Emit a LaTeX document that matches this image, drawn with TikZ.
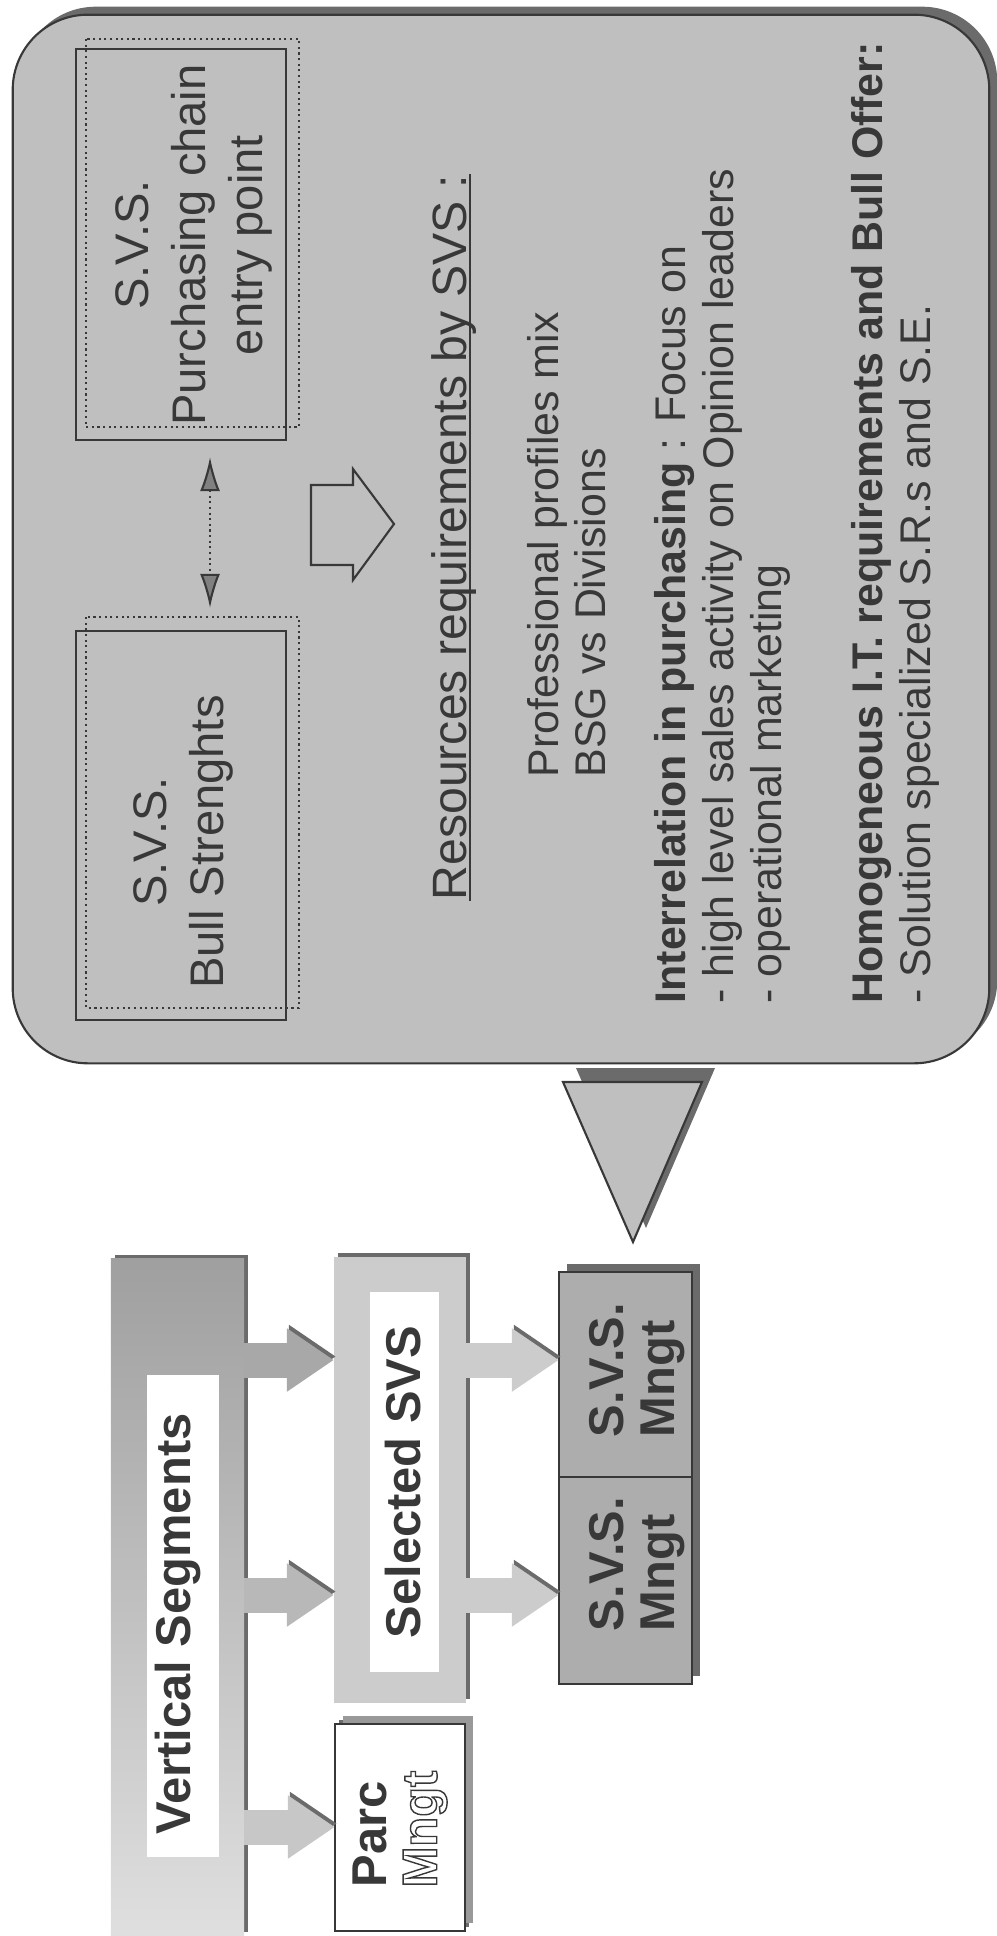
\documentclass[tikz,border=0pt]{standalone}
\usepackage{fontspec}
\setmainfont{Liberation Sans}
\usetikzlibrary{arrows.meta,positioning,shadows,backgrounds}
\definecolor{panelgray}{gray}{0.75}
\definecolor{shadegray}{gray}{0.42}
\definecolor{inkgray}{gray}{0.22}
\definecolor{mngtgray}{gray}{0.68}
\definecolor{selgray}{gray}{0.80}
\definecolor{flowgray}{gray}{0.78}
% outlined letters, as in the scan
\newcommand{\hollowtext}[1]{\special{pdf:literal 1 Tr}#1\special{pdf:literal 0 Tr}}

\tikzset{
  vtext/.style={rotate=90,inner sep=0pt,text=inkgray},
  boxfont/.style={font=\fontsize{13.4}{16.2}\selectfont},
  headfont/.style={font=\fontsize{13.7}{16}\selectfont},
  parafont/.style={font=\fontsize{12.2}{14}\selectfont},
  flowfont/.style={font=\fontsize{13.9}{14.3}\selectfont\bfseries},
  boxline/.style={draw=inkgray,line width=0.6pt,inner sep=0pt,outer sep=0pt},
  flowbox/.style={inner sep=0pt,outer sep=0pt,
    drop shadow={shadow xshift=0.04cm,shadow yshift=0.04cm,fill=shadegray,opacity=1}},
  cellbox/.style={boxline,fill=mngtgray,minimum width=1.33cm},
  twoway/.style={densely dotted,draw=inkgray,line width=0.6pt,
    {Latex[length=0.34cm,width=0.2cm,fill=gray]}-{Latex[length=0.34cm,width=0.2cm,fill=gray]},
    shorten <=0.17cm,shorten >=0.23cm},
  flowarrow/.style={draw=#1,line width=0.35cm,-{Triangle[length=0.47cm,width=0.6cm]},
    preaction={draw=shadegray,transform canvas={xshift=0.02cm,yshift=0.035cm}}},
  flowarrow/.default=flowgray
}

\begin{document}
\begin{tikzpicture}[x=0.01cm,y=-0.01cm]
  \useasboundingbox (0,0) rectangle (997,1936);
  % Main panel
  \node[boxline,fill=panelgray,rounded corners=0.75cm,minimum width=9.76cm,minimum height=10.48cm,
    drop shadow={shadow xshift=0.08cm,shadow yshift=0.08cm,fill=shadegray,opacity=1}] (panel) at (501,539) {};
  % Strength boxes with dotted offsets
  \draw[boxline,densely dotted] (86,39) rectangle (299,427);
  \node[boxline,minimum width=2.10cm,minimum height=3.91cm] (purch) at (181,244.5) {};
  \draw[boxline,densely dotted] (86,617) rectangle (299,1008);
  \node[boxline,minimum width=2.10cm,minimum height=3.89cm] (bull) at (181,825.5) {};
  \node[vtext,boxfont,align=center] (purchtxt) at (194,245) {S.V.S.\\Purchasing chain\\entry point};
  \node[vtext,boxfont,align=center] (bulltxt) at (183,842) {S.V.S.\\Bull Strenghts};
  \draw[twoway] ([xshift=0.29cm]purch.south) -- ([xshift=0.29cm]bull.north);
  % Hollow block arrow
  \draw[boxline] (311,485) -- (353,485) -- (353,469) -- (394,524) -- (353,580) -- (353,565) -- (311,565) -- cycle;
  % Heading
  \node[vtext,headfont,anchor=base west] (res) at (466,901) {Resources requirements by SVS :};
  \draw[inkgray,line width=0.5pt] ([xshift=0.04cm]res.base west) -- ([xshift=0.04cm]res.base east);
  % Text lines
  \foreach \nm/\bx/\by/\txt in {prof/558/778/{Professional profiles mix},
      bsg/605/778/{BSG vs Divisions},
      inter/685/1004/{\textbf{Interrelation in purchasing} : Focus on},
      high/733/1004/{- high level sales activity on Opinion leaders},
      oper/781/1004/{- operational marketing},
      homog/882/1004/{\textbf{Homogeneous I.T. requirements and Bull Offer:}},
      sol/930/1004/{- Solution specialized S.R.s and S.E.}}{
    \node[vtext,parafont,anchor=base west] (\nm) at (\bx,\by) {\txt};
  }
  % Pointer triangle
  \draw[boxline,fill=panelgray,
    drop shadow={shadow xshift=0.13cm,shadow yshift=0.14cm,fill=shadegray,opacity=1}]
    (563,1082) -- (702,1082) -- (633,1242) -- cycle;
  % Flow chart boxes
  \node[flowbox,top color=gray!75,bottom color=gray!25,minimum width=1.33cm,minimum height=6.77cm] (vseg) at (177.5,1597.5) {};
  \node[fill=white,inner sep=0pt,minimum width=0.72cm,minimum height=4.82cm] (vsegin) at (183,1616) {};
  \node[vtext,flowfont] (vsegtxt) at (178,1624) {Vertical Segments};
  \node[flowbox,fill=selgray,minimum width=1.32cm,minimum height=4.46cm] (sel) at (400,1480) {};
  \node[fill=white,inner sep=0pt,minimum width=0.69cm,minimum height=3.80cm] (selin) at (404.5,1482) {};
  \node[vtext,flowfont] (seltxt) at (403,1482) {Selected SVS};
  \node[flowbox,boxline,fill=white,minimum width=1.30cm,minimum height=2.07cm,
    drop shadow={shadow xshift=0.08cm,shadow yshift=0.08cm,fill=gray!80,opacity=1}] (parc) at (400,1827.5) {};
  \node[vtext,flowfont,align=left] (parctxt) at (400,1829) {Parc\\\hollowtext{Mngt}};
  \node[cellbox,minimum height=2.05cm] (mngta) at (625.5,1374.5) {};
  \node[cellbox,minimum height=2.07cm,below=0pt of mngta] (mngtb) {};
  \begin{scope}[on background layer]
    \fill[shadegray] ([shift={(0.08cm,0.08cm)}]mngta.north west) rectangle ([shift={(0.08cm,0.08cm)}]mngtb.south east);
  \end{scope}
  \node[vtext,flowfont,align=left] (mngtatxt) at (637,1370) {S.V.S.\\Mngt};
  \node[vtext,flowfont,align=left] (mngtbtxt) at (637,1564) {S.V.S.\\Mngt};
  % Flow arrows
  \coordinate (rowa) at (0,1360);
  \coordinate (rowb) at (0,1595);
  \coordinate (rowc) at (0,1827);
  \draw[flowarrow=gray!68] (vseg.east |- rowa) -- (sel.west |- rowa);
  \draw[flowarrow=gray!56] (vseg.east |- rowb) -- (sel.west |- rowb);
  \draw[flowarrow=gray!44] (vseg.east |- rowc) -- (parc.west |- rowc);
  \draw[flowarrow=selgray] (sel.east |- rowa) -- (mngta.west |- rowa);
  \draw[flowarrow=selgray] (sel.east |- rowb) -- (mngtb.west |- rowb);
\end{tikzpicture}
\end{document}
